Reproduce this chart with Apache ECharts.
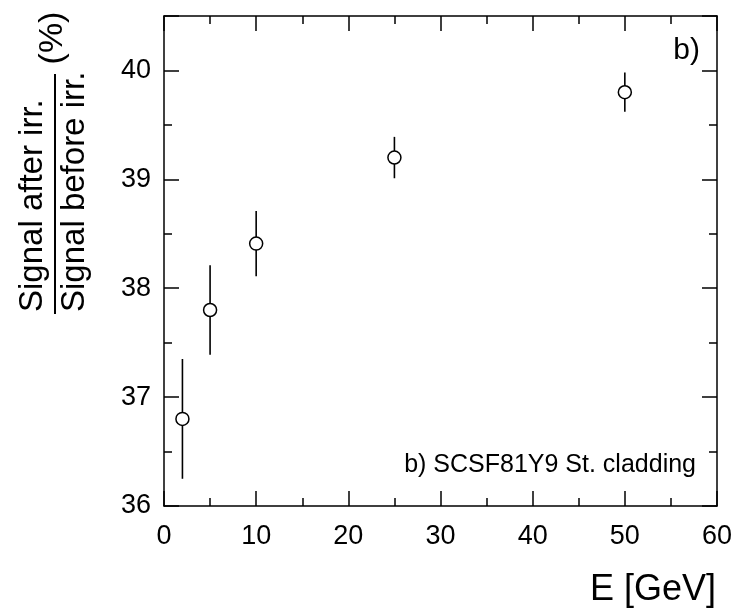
<!DOCTYPE html>
<html>
<head>
<meta charset="utf-8">
<script src="https://cdn.jsdelivr.net/npm/echarts@6/dist/echarts.min.js"></script>
<style>
html,body{margin:0;padding:0;background:#fff;}
#chart{width:737px;height:613px;}
</style>
</head>
<body>
<div id="chart"></div>
<script>
// Data
var energies = [2, 5, 10, 25, 50];
var ratios = [36.8, 37.8, 38.41, 39.2, 39.8];
var errors = [0.55, 0.41, 0.3, 0.19, 0.18];
var xTicks = [0, 10, 20, 30, 40, 50, 60];
var yTicks = [36, 37, 38, 39, 40];

var FONT = 'Liberation Sans, Arial, sans-serif';
var chart = echarts.init(document.getElementById('chart'), null, {renderer: 'canvas'});

var points = energies.map(function (e, i) { return [e, ratios[i]]; });
var bars = energies.map(function (e, i) { return [e, ratios[i] - errors[i], ratios[i] + errors[i]]; });

function axisCommon(showLabel, pos) {
  return {
    type: 'value',
    position: pos,
    axisLine: {show: true, onZero: false, lineStyle: {color: '#000', width: 1.5}},
    axisTick: {show: true, inside: true, length: 15, lineStyle: {color: '#000', width: 1.5}},
    minorTick: {show: true, splitNumber: 2, length: 8, lineStyle: {color: '#000', width: 1.5}},
    splitLine: {show: false},
    axisLabel: {show: showLabel, color: '#000', fontFamily: FONT, fontSize: 27}
  };
}

var xBottom = Object.assign(axisCommon(true, 'bottom'), {min: 0, max: 60, interval: 10});
xBottom.axisLabel.margin = 17;
var xTop = Object.assign(axisCommon(false, 'top'), {min: 0, max: 60, interval: 10});
var yLeft = Object.assign(axisCommon(true, 'left'), {min: 36, max: 40.5, interval: 1});
yLeft.axisLabel.margin = 13;
yLeft.axisLabel.formatter = function (v) { return yTicks.indexOf(v) >= 0 ? String(v) : ''; };
xBottom.axisLabel.formatter = function (v) { return xTicks.indexOf(v) >= 0 ? String(v) : ''; };
var yRight = Object.assign(axisCommon(false, 'right'), {min: 36, max: 40.5, interval: 1});

var option = {
  backgroundColor: '#fff',
  animation: false,
  grid: {left: 164, right: 20, top: 16, bottom: 107, containLabel: false},
  xAxis: [xBottom, xTop],
  yAxis: [yLeft, yRight],
  series: [
    {
      type: 'custom',
      xAxisIndex: 0, yAxisIndex: 0,
      data: bars,
      z: 2,
      renderItem: function (params, api) {
        var lo = api.coord([api.value(0), api.value(1)]);
        var hi = api.coord([api.value(0), api.value(2)]);
        return {
          type: 'line',
          shape: {x1: lo[0], y1: lo[1], x2: hi[0], y2: hi[1]},
          style: {stroke: '#000', lineWidth: 1.6}
        };
      }
    },
    {
      type: 'scatter',
      xAxisIndex: 0, yAxisIndex: 0,
      data: points,
      symbol: 'circle',
      symbolSize: 13,
      z: 3,
      itemStyle: {color: '#fff', borderColor: '#000', borderWidth: 1.5, opacity: 1}
    }
  ],
  graphic: [
    {type: 'text', x: 700, y: 66, z: 10,
     style: {text: 'b)', fill: '#000', font: '30px ' + FONT, textAlign: 'right', textVerticalAlign: 'bottom'}},
    {type: 'text', x: 696, y: 478, z: 10,
     style: {text: 'b) SCSF81Y9 St. cladding', fill: '#000', font: '25px ' + FONT, textAlign: 'right', textVerticalAlign: 'bottom'}},
    {type: 'text', x: 716, y: 608, z: 10,
     style: {text: 'E [GeV]', fill: '#000', font: '36px ' + FONT, textAlign: 'right', textVerticalAlign: 'bottom'}},
    {type: 'text', x: 33, y: 312, rotation: Math.PI / 2, z: 10,
     style: {text: 'Signal after irr.', fill: '#000', font: '33px ' + FONT, textAlign: 'left', textVerticalAlign: 'middle'}},
    {type: 'text', x: 75, y: 312, rotation: Math.PI / 2, z: 10,
     style: {text: 'Signal before irr.', fill: '#000', font: '33px ' + FONT, textAlign: 'left', textVerticalAlign: 'middle'}},
    {type: 'line', z: 10, shape: {x1: 55, y1: 74, x2: 55, y2: 314}, style: {stroke: '#000', lineWidth: 2}},
    {type: 'text', x: 53, y: 38, rotation: Math.PI / 2, z: 10,
     style: {text: '(%)', fill: '#000', font: '34px ' + FONT, textAlign: 'center', textVerticalAlign: 'middle'}}
  ]
};
chart.setOption(option);
</script>
</body>
</html>
